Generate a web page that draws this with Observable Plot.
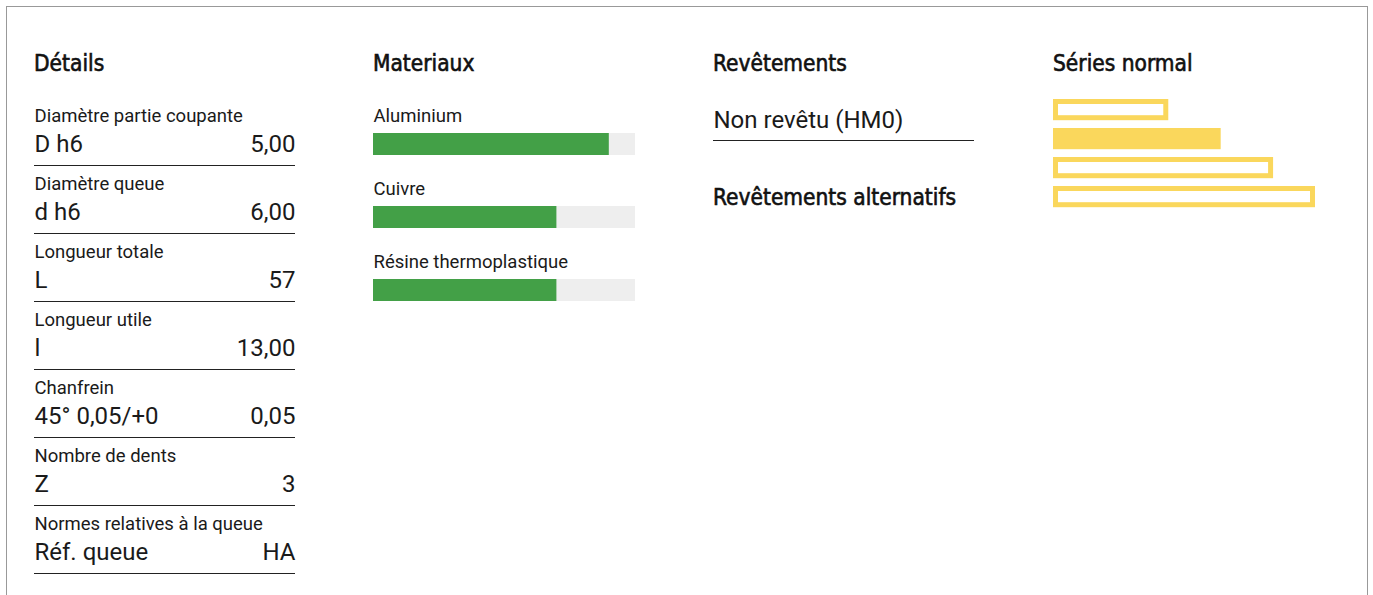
<!DOCTYPE html>
<html>
<head>
<meta charset="utf-8">
<script src="https://cdn.jsdelivr.net/npm/d3@7"></script>
<script src="https://cdn.jsdelivr.net/npm/@observablehq/plot@0.6"></script>
<style>
  html, body { margin: 0; padding: 0; background: #fff; }
  body { width: 1373px; height: 595px; overflow: hidden; position: relative; font-family: Roboto, sans-serif; color: #1a1a1a; }
  .card { position: absolute; left: 6px; top: 6px; width: 1362px; height: 620px; border: 1px solid #999; border-bottom: none; box-sizing: border-box; }
  .h { position: absolute; font-family: "DejaVu Sans Condensed", sans-serif; font-size: 22.5px; line-height: 24px; font-weight: normal; color: #111; -webkit-text-stroke: 0.6px #111; white-space: nowrap; }
  .p { position: absolute; width: 262px; }
</style>
</head>
<body>
<div class="card"></div>
<div class="h" style="left:34px; top:51px">Détails</div>
<div class="h" style="left:373px; top:51px">Materiaux</div>
<div class="h" style="left:713px; top:51px">Revêtements</div>
<div class="h" style="left:713px; top:185px">Revêtements alternatifs</div>
<div class="h" style="left:1053px; top:51px">Séries normal</div>
<div class="p" id="details" style="left:34px; top:97px"></div>
<div class="p" id="materials" style="left:373px; top:103px"></div>
<div class="p" id="coatings" style="left:713px; top:97px"></div>
<div class="p" id="series" style="left:1053px; top:98px"></div>
<script>
// ---- data ----
const detailLabels = ["Diamètre partie coupante", "Diamètre queue", "Longueur totale", "Longueur utile", "Chanfrein", "Nombre de dents", "Normes relatives à la queue"];
const detailSymbols = ["D h6", "d h6", "L", "l", "45° 0,05/+0", "Z", "Réf. queue"];
const detailValues = ["5,00", "6,00", "57", "13,00", "0,05", "3", "HA"];

const materialNames = ["Aluminium", "Cuivre", "Résine thermoplastique"];
const materialScores = [90, 70, 70];
const materialMax = 100;

const coatingNames = ["Non revêtu (HM0)"];

const seriesNames = ["Court", "Normal", "Long", "Extra long"];
const seriesLengths = [44, 64, 84, 100];
const seriesCurrent = "Normal";
const seriesMax = 100;

const INK = "#1a1a1a";
const GREEN = "#43a047";
const TRACK = "#eeeeee";
const YELLOW = "#fad75c";
const LABEL_SIZE = 18.5;
const VALUE_SIZE = 24;

// ---- details ----
const detailRows = detailLabels.map((label, i) => ({row: i, next: i + 1, label, symbol: detailSymbols[i], value: detailValues[i]}));
document.getElementById("details").append(Plot.plot({
  width: 262, height: 480,
  margin: 0,
  style: {fontFamily: "Roboto", color: INK, background: "transparent"},
  x: {axis: null},
  y: {axis: null, domain: [0, detailRows.length], range: [0, 68 * detailRows.length]},
  marks: [
    Plot.text(detailRows, {y: "row", text: "label", frameAnchor: "left", textAnchor: "start", dy: 18.8, fontSize: LABEL_SIZE, fill: INK}),
    Plot.text(detailRows, {y: "row", text: "symbol", frameAnchor: "left", textAnchor: "start", dy: 47.3, fontSize: VALUE_SIZE, fill: INK}),
    Plot.text(detailRows, {y: "row", text: "value", frameAnchor: "right", textAnchor: "end", dx: -1, dy: 47.3, fontSize: VALUE_SIZE, fill: INK}),
    Plot.ruleY(detailRows, {y: "next", stroke: "#222", strokeWidth: 1, insetRight: 1})
  ]
}));

// ---- materials ----
const materialRows = materialNames.map((name, i) => ({name, score: materialScores[i], max: materialMax}));
document.getElementById("materials").append(Plot.plot({
  width: 262, height: 222,
  margin: 0,
  style: {fontFamily: "Roboto", color: INK, background: "transparent"},
  x: {axis: null, domain: [0, materialMax]},
  y: {axis: null, type: "band", domain: materialNames, range: [0, 73 * materialNames.length], padding: 0},
  marks: [
    Plot.barX(materialRows, {x: "max", y: "name", fill: TRACK, insetTop: 30, insetBottom: 21}),
    Plot.barX(materialRows, {x: "score", y: "name", fill: GREEN, insetTop: 30, insetBottom: 21}),
    Plot.text(materialRows, {y: "name", text: "name", frameAnchor: "left", textAnchor: "start", dy: -23.5, fontSize: LABEL_SIZE, fill: INK})
  ]
}));

// ---- coatings ----
const coatingRows = coatingNames.map((name, i) => ({row: i, next: i + 1, name}));
document.getElementById("coatings").append(Plot.plot({
  width: 262, height: 46,
  margin: 0,
  style: {fontFamily: "Roboto", color: INK, background: "transparent"},
  x: {axis: null},
  y: {axis: null, domain: [0, coatingRows.length], range: [0, 43 * coatingRows.length]},
  marks: [
    Plot.text(coatingRows, {y: "row", text: "name", frameAnchor: "left", textAnchor: "start", dy: 23, fontSize: VALUE_SIZE, fill: INK}),
    Plot.ruleY(coatingRows, {y: "next", stroke: "#222", strokeWidth: 1, insetRight: 1})
  ]
}));

// ---- series ----
const seriesRows = seriesNames.map((name, i) => ({name, length: seriesLengths[i], current: name === seriesCurrent}));
document.getElementById("series").append(Plot.plot({
  width: 262, height: 120,
  margin: 0,
  style: {background: "transparent"},
  x: {axis: null, domain: [0, seriesMax]},
  y: {axis: null, type: "band", domain: seriesNames, range: [0, 29.33 * seriesNames.length], padding: 0},
  marks: [
    Plot.barX(seriesRows.filter(d => d.current), {x: "length", y: "name", fill: YELLOW, insetBottom: 7.8}),
    Plot.barX(seriesRows.filter(d => !d.current), {x: "length", y: "name", fill: "none", stroke: YELLOW, strokeWidth: 5,
      insetTop: 2.5, insetLeft: 2.5, insetRight: 2.5, insetBottom: 10.3})
  ]
}));
</script>
</body>
</html>
